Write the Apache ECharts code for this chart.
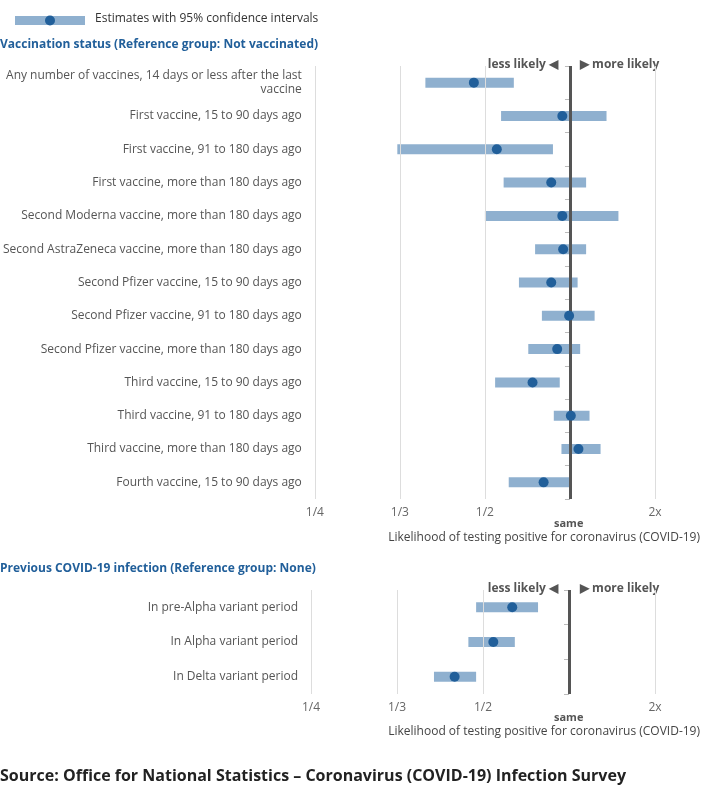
<!DOCTYPE html>
<html><head><meta charset="utf-8">
<script src="https://cdn.jsdelivr.net/npm/echarts@6/dist/echarts.min.js"></script>
<style>html,body{margin:0;padding:0;background:#fff}#c{width:704px;height:797px}</style>
</head><body><div id="c"></div>
<script>
// values in chart-scale units (0 = same, -1 = 1/2, -2 = 1/3, -3 = 1/4, 1 = 2x)
const vacCats = ["Any number of vaccines, 14 days or less after the last\nvaccine","First vaccine, 15 to 90 days ago","First vaccine, 91 to 180 days ago","First vaccine, more than 180 days ago","Second Moderna vaccine, more than 180 days ago","Second AstraZeneca vaccine, more than 180 days ago","Second Pfizer vaccine, 15 to 90 days ago","Second Pfizer vaccine, 91 to 180 days ago","Second Pfizer vaccine, more than 180 days ago","Third vaccine, 15 to 90 days ago","Third vaccine, 91 to 180 days ago","Third vaccine, more than 180 days ago","Fourth vaccine, 15 to 90 days ago"];
const vacEst  = [-1.13,-0.09,-0.86,-0.22,-0.09,-0.08,-0.22,-0.01,-0.15,-0.44,0.01,0.10,-0.31];
const vacLow  = [-1.70,-0.81,-2.03,-0.78,-1.00,-0.41,-0.60,-0.33,-0.49,-0.88,-0.19,-0.10,-0.72];
const vacHigh = [-0.66,0.43,-0.20,0.19,0.57,0.19,0.09,0.29,0.12,-0.12,0.23,0.36,0.00];
const infCats = ["In pre-Alpha variant period","In Alpha variant period","In Delta variant period"];
const infEst  = [-0.66,-0.88,-1.33];
const infLow  = [-1.08,-1.17,-1.57];
const infHigh = [-0.36,-0.63,-1.08];
const tickLabels = {"-3":"1/4","-2":"1/3","-1":"1/2","0":"","1":"2x"};

const F = "'Open Sans', sans-serif";
const blue = "#215f9a", light = "#8fb0cf";
function xAxis(gi){
  return {type:'value',gridIndex:gi,min:-3,max:1,interval:1,splitLine:{show:false},axisLine:{show:false},axisTick:{show:false},
    axisLabel:{fontFamily:F,fontSize:12,color:'#666',margin:8,formatter:v=>tickLabels[String(v)]||''}};
}
function yAxis(gi,cats){
  return {type:'category',gridIndex:gi,data:cats,inverse:true,axisLine:{show:false},
    axisTick:{show:true,length:5,lineStyle:{color:'#bbb'}},
    axisLabel:{fontFamily:F,fontSize:12,color:'#555',margin:13,align:'right',lineHeight:14}};
}
function ciSeries(gi,low,high){
  return {type:'custom',xAxisIndex:gi,yAxisIndex:gi,data:low.map((l,i)=>[l,high[i],i]),
    renderItem:(p,api)=>{const a=api.coord([api.value(0),api.value(2)]),b=api.coord([api.value(1),api.value(2)]);
      return {type:'rect',shape:{x:a[0],y:a[1]-5,width:b[0]-a[0],height:10},style:{fill:light}};},z:2};
}
function grid(gi){
  const g=c=>({color:'#ddd',width:1,type:'solid'});
  return {type:'line',xAxisIndex:gi,yAxisIndex:gi,data:[],silent:true,
    markLine:{symbol:'none',label:{show:false},animation:false,data:[
      {xAxis:-3,lineStyle:g()},{xAxis:-2,lineStyle:g()},{xAxis:-1,lineStyle:g()},{xAxis:1,lineStyle:g()},
      {xAxis:0,lineStyle:{color:'#555',width:3,type:'solid'}}]}};
}
function pts(gi,est){
  return {type:'scatter',xAxisIndex:gi,yAxisIndex:gi,data:est.map((v,i)=>[v,i]),symbolSize:10,itemStyle:{color:blue,opacity:1},z:10};
}
const t=(x,y,text,o)=>({type:'text',left:x,top:y,style:Object.assign({text,fontFamily:F,fontSize:12,fill:'#555'},o||{})});
const opt={animation:false,
  grid:[{left:311,right:49,top:66,height:433},{left:311,right:49,top:590,height:104}],
  xAxis:[xAxis(0),xAxis(1)],yAxis:[yAxis(0,vacCats),yAxis(1,infCats)],
  series:[grid(0),ciSeries(0,vacLow,vacHigh),pts(0,vacEst),grid(1),ciSeries(1,infLow,infHigh),pts(1,infEst)],
  graphic:[
    {type:'rect',shape:{x:15,y:16,width:70,height:9},style:{fill:light}},
    {type:'circle',shape:{cx:50,cy:20.5,r:5},style:{fill:blue}},
    t(95,13,'Estimates with 95% confidence intervals',{fill:'#333'}),
    t(0,39,'Vaccination status (Reference group: Not vaccinated)',{fill:blue,fontWeight:'bold'}),
    t(0,563,'Previous COVID-19 infection (Reference group: None)',{fill:blue,fontWeight:'bold'}),
    {type:'text',right:146,top:59,style:{text:'less likely ◀',fontFamily:F,fontSize:12,fontWeight:'bold',fill:'#555'}},
    t(580,59,'▶ more likely',{fontWeight:'bold'}),
    {type:'text',right:146,top:583,style:{text:'less likely ◀',fontFamily:F,fontSize:12,fontWeight:'bold',fill:'#555'}},
    t(580,583,'▶ more likely',{fontWeight:'bold'}),
    t(554,518,'same',{fontWeight:'bold',fontSize:11}),
    t(554,712,'same',{fontWeight:'bold',fontSize:11}),
    {type:'text',right:4,top:532,style:{text:'Likelihood of testing positive for coronavirus (COVID-19)',fontFamily:F,fontSize:12,fill:'#444'}},
    {type:'text',right:4,top:726,style:{text:'Likelihood of testing positive for coronavirus (COVID-19)',fontFamily:F,fontSize:12,fill:'#444'}},
    t(0,768,'Source: Office for National Statistics – Coronavirus (COVID-19) Infection Survey',{fontSize:16,fontWeight:'bold',fill:'#222'})
  ]};
echarts.init(document.getElementById('c')).setOption(opt);
</script></body></html>
